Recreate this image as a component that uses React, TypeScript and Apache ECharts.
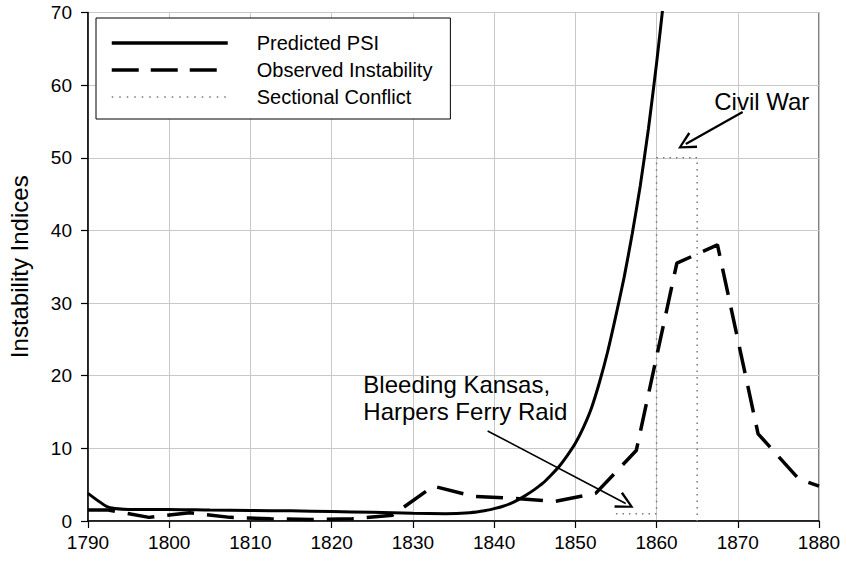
import React, { useEffect, useRef } from "react";
import * as echarts from "echarts";

const FONT = "'Liberation Sans', Arial, Helvetica, sans-serif";

const psiYears = [1790, 1792.5, 1795, 1800, 1805, 1810, 1815, 1820, 1825, 1830, 1834, 1837, 1839, 1840, 1841, 1842, 1843, 1844, 1845, 1846, 1847, 1848, 1849, 1850, 1851, 1852, 1853, 1854, 1855, 1856, 1857, 1858, 1859, 1860, 1861, 1862];
const psiValues = [3.8, 1.9, 1.6, 1.6, 1.5, 1.45, 1.4, 1.3, 1.2, 1.05, 1.0, 1.15, 1.45, 1.7, 2.0, 2.4, 2.95, 3.6, 4.35, 5.2, 6.3, 7.5, 9.0, 10.7, 12.9, 15.6, 19.2, 23.4, 28.3, 33.5, 39.5, 46.2, 54, 63, 73, 84];

const obsYears = [1790, 1792.5, 1797.5, 1802.5, 1807.5, 1812.5, 1817.5, 1822.5, 1827.5, 1832.5, 1837.5, 1842.5, 1847.5, 1852.5, 1857.5, 1862.5, 1867.5, 1872.5, 1877.5, 1880];
const obsValues = [1.5, 1.5, 0.5, 1.15, 0.5, 0.3, 0.2, 0.3, 0.8, 4.8, 3.4, 3.1, 2.7, 3.8, 9.7, 35.5, 38, 12, 5.8, 4.8];

const conflictYears = [1855, 1860, 1860, 1865, 1865];
const conflictValues = [1, 1, 50, 50, 0];

const xTicks = { min: 1790, max: 1880, interval: 10 };
const yTicks = { min: 0, max: 70, interval: 10 };

const seriesNames = ["Predicted PSI", "Observed Instability", "Sectional Conflict"];

const annotationTexts = ["Civil War", "Bleeding Kansas,\nHarpers Ferry Raid"];
const annotationAnchors = [
  [1867.1, 57.8],
  [1823.9, 17.0],
];
const arrowLines = [
  [[1870.6, 56.3], [1863.6, 51.9]],
  [[1839.2, 12.4], [1856.2, 2.4]],
];

const pair = (xs: number[], ys: number[]) => xs.map((x, i) => [x, ys[i]]);

const ARROW = "path://M6,0 L12,12 L10.5,12.8 L6,3.2 L1.5,12.8 L0,12 Z";

export default function App() {
  const ref = useRef<HTMLDivElement>(null);
  useEffect(() => {
    if (!ref.current) return;
    const chart = echarts.init(ref.current, undefined, { renderer: "svg" });
    chart.setOption({
      animation: false,
      backgroundColor: "#fff",
      textStyle: { fontFamily: FONT },
      grid: {
        left: 88,
        right: 28,
        top: 12.5,
        bottom: 42,
        show: true,
        borderColor: "#000",
        borderWidth: 1,
        outerBoundsMode: "none",
        containLabel: false,
      },
      legend: {
        data: [
          { name: seriesNames[0], lineStyle: { width: 3.5, color: "#000" } },
          { name: seriesNames[1], lineStyle: { width: 3.5, color: "#000", type: [27, 12] } },
          { name: seriesNames[2], lineStyle: { width: 1.5, color: "#777", type: [1.5, 6] } },
        ],
        orient: "vertical",
        left: 96,
        top: 18,
        padding: [15, 18, 12, 14],
        itemWidth: 116,
        itemHeight: 20,
        itemGap: 7,
        borderColor: "#000",
        borderWidth: 1,
        backgroundColor: "#fff",
        borderRadius: 0,
        selectedMode: false,
        itemStyle: { color: "rgba(0,0,0,0)", borderWidth: 0, opacity: 0 },
        textStyle: { fontSize: 20, color: "#000", fontFamily: FONT, padding: [0, 0, 0, 24] },
      },
      xAxis: {
        type: "value",
        min: xTicks.min,
        max: xTicks.max,
        interval: xTicks.interval,
        axisLine: { show: true, lineStyle: { color: "#000", width: 1.5 } },
        axisTick: { show: true, inside: false, length: 7, lineStyle: { color: "#000", width: 1.2 } },
        axisLabel: { color: "#000", fontSize: 19, fontFamily: FONT, margin: 12, formatter: (v: number) => String(v) },
        splitLine: { show: true, lineStyle: { color: "#c8c8c8", width: 1 } },
      },
      yAxis: {
        type: "value",
        min: yTicks.min,
        max: yTicks.max,
        interval: yTicks.interval,
        name: "Instability Indices",
        nameLocation: "middle",
        nameGap: 57,
        nameTextStyle: { color: "#000", fontSize: 24, fontFamily: FONT },
        axisLine: { show: true, lineStyle: { color: "#000", width: 1.5 } },
        axisTick: { show: true, inside: false, length: 7, lineStyle: { color: "#000", width: 1.2 } },
        axisLabel: { color: "#000", fontSize: 19, fontFamily: FONT, margin: 16 },
        splitLine: { show: true, lineStyle: { color: "#c8c8c8", width: 1 } },
      },
      series: [
        {
          name: seriesNames[0],
          type: "line",
          data: pair(psiYears, psiValues),
          symbol: "none",
          smooth: 0.2,
          clip: true,
          lineStyle: { color: "#000", width: 3 },
          itemStyle: { color: "#000" },
          z: 5,
        },
        {
          name: seriesNames[1],
          type: "line",
          data: pair(obsYears, obsValues),
          symbol: "none",
          clip: true,
          lineStyle: { color: "#000", width: 3.5, type: [27, 13] },
          itemStyle: { color: "#000" },
          z: 4,
        },
        {
          name: seriesNames[2],
          type: "line",
          data: pair(conflictYears, conflictValues),
          symbol: "none",
          clip: true,
          lineStyle: { color: "#777", width: 1.5, type: [1.5, 5] },
          itemStyle: { color: "#777" },
          z: 3,
          markLine: {
            silent: true,
            animation: false,
            symbol: ["none", ARROW],
            symbolSize: [18, 18],
            label: { show: false },
            lineStyle: { color: "#000", width: 2, type: "solid" },
            data: arrowLines.map((l, i) => [
              { coord: l[0], lineStyle: { color: "#000", width: i === 0 ? 2.2 : 1.6, type: "solid" } },
              { coord: l[1] },
            ]),
          },
          markPoint: {
            silent: true,
            animation: false,
            symbol: "circle",
            symbolSize: 0,
            data: annotationTexts.map((t, i) => ({
              coord: annotationAnchors[i],
              value: t,
              label: {
                show: true,
                formatter: t,
                position: "right",
                distance: 0,
                align: "left",
                verticalAlign: "middle",
                color: "#000",
                fontSize: 24,
                lineHeight: 27,
                fontFamily: FONT,
              },
            })),
          },
        },
      ],
    });
    return () => chart.dispose();
  }, []);
  return (
    <div
      ref={ref}
      style={{ position: "absolute", left: 0, top: 0, width: 847, height: 563 }}
    />
  );
}
